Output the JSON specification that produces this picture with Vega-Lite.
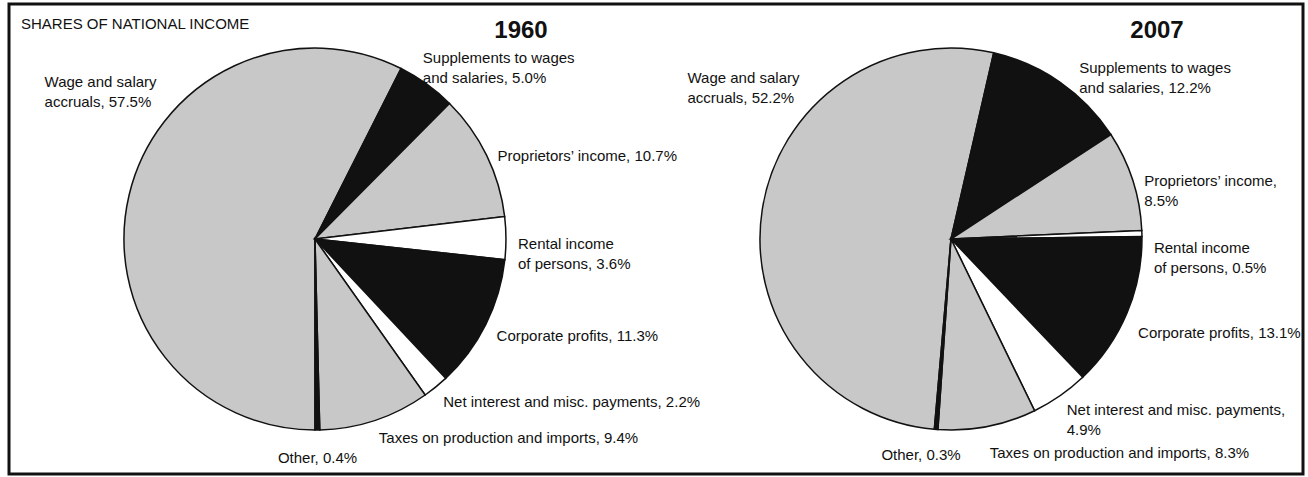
{
  "$schema": "https://vega.github.io/schema/vega-lite/v6.json",
  "width": 1294,
  "height": 470,
  "autosize": {"type": "none"},
  "padding": {"left": 9, "top": 4, "right": 5, "bottom": 3},
  "background": "white",
  "config": {
    "view": {"stroke": "#111111", "strokeWidth": 3},
    "font": "Liberation Sans",
    "text": {"font": "Liberation Sans", "fontSize": 15, "lineHeight": 20, "color": "#111111"}
  },
  "data": {
    "values": [
      {"year": 1960, "idx": 1, "category": "Wage", "share": 57.5, "label": "Wage and salary\naccruals, 57.5%"},
      {"year": 1960, "idx": 2, "category": "Supplements", "share": 5.0, "label": "Supplements to wages\nand salaries, 5.0%"},
      {"year": 1960, "idx": 3, "category": "Proprietors", "share": 10.7, "label": "Proprietors’ income, 10.7%"},
      {"year": 1960, "idx": 4, "category": "Rental", "share": 3.6, "label": "Rental income\nof persons, 3.6%"},
      {"year": 1960, "idx": 5, "category": "Corporate", "share": 11.3, "label": "Corporate profits, 11.3%"},
      {"year": 1960, "idx": 6, "category": "Net interest", "share": 2.2, "label": "Net interest and misc. payments, 2.2%"},
      {"year": 1960, "idx": 7, "category": "Taxes", "share": 9.4, "label": "Taxes on production and imports, 9.4%"},
      {"year": 1960, "idx": 8, "category": "Other", "share": 0.4, "label": "Other, 0.4%"},
      {"year": 2007, "idx": 1, "category": "Wage", "share": 52.2, "label": "Wage and salary\naccruals, 52.2%"},
      {"year": 2007, "idx": 2, "category": "Supplements", "share": 12.2, "label": "Supplements to wages\nand salaries, 12.2%"},
      {"year": 2007, "idx": 3, "category": "Proprietors", "share": 8.5, "label": "Proprietors’ income,\n8.5%"},
      {"year": 2007, "idx": 4, "category": "Rental", "share": 0.5, "label": "Rental income\nof persons, 0.5%"},
      {"year": 2007, "idx": 5, "category": "Corporate", "share": 13.1, "label": "Corporate profits, 13.1%"},
      {"year": 2007, "idx": 6, "category": "Net interest", "share": 4.9, "label": "Net interest and misc. payments,\n4.9%"},
      {"year": 2007, "idx": 7, "category": "Taxes", "share": 8.3, "label": "Taxes on production and imports, 8.3%"},
      {"year": 2007, "idx": 8, "category": "Other", "share": 0.3, "label": "Other, 0.3%"}
    ]
  },
  "encoding": {
    "x": {"field": "year", "type": "ordinal", "scale": {"type": "point", "domain": [1960, 2007], "padding": 0.5173, "align": 0.465}, "axis": null}
  },
  "layer": [
    {
      "transform": [{"filter": "datum.year == 1960"}],
      "encoding": {
        "theta": {"field": "share", "type": "quantitative", "stack": true, "scale": {"range": [3.14159, 9.42478]}},
        "order": {"field": "idx", "type": "quantitative"},
        "detail": {"field": "category", "type": "nominal"}
      },
      "layer": [
        {
          "mark": {"type": "arc", "outerRadius": 191, "stroke": "#111111", "strokeWidth": 1.5},
          "encoding": {
            "color": {"field": "category", "type": "nominal", "legend": null,
              "scale": {"domain": ["Wage", "Supplements", "Proprietors", "Rental", "Corporate", "Net interest", "Taxes", "Other"],
                        "range": ["#c8c8c8", "#111111", "#c8c8c8", "#ffffff", "#111111", "#ffffff", "#c8c8c8", "#111111"]}}
          }
        },
        {
          "mark": {"type": "text", "radius": 203, "align": "left", "baseline": "middle", "dy": 6, "lineBreak": "\n"},
          "encoding": {"text": {"condition": {"test": "indexof(['Proprietors','Rental','Corporate','Net interest','Taxes'], datum.category) >= 0", "field": "label", "type": "nominal"}, "value": ""}}
        },
        {
          "mark": {"type": "text", "radius": 205, "align": "left", "baseline": "middle", "dx": -12, "dy": -15, "lineBreak": "\n"},
          "encoding": {"text": {"condition": {"test": "datum.category == 'Supplements'", "field": "label", "type": "nominal"}, "value": ""}}
        },
        {
          "mark": {"type": "text", "radius": 205, "align": "left", "baseline": "middle", "dx": -71, "dy": -110, "lineBreak": "\n"},
          "encoding": {"text": {"condition": {"test": "datum.category == 'Wage'", "field": "label", "type": "nominal"}, "value": ""}}
        },
        {
          "mark": {"type": "text", "radius": 205, "align": "center", "baseline": "middle", "dy": 14, "lineBreak": "\n"},
          "encoding": {"text": {"condition": {"test": "datum.category == 'Other'", "field": "label", "type": "nominal"}, "value": ""}}
        }
      ]
    },
    {
      "transform": [{"filter": "datum.year == 2007"}],
      "encoding": {
        "theta": {"field": "share", "type": "quantitative", "stack": true, "scale": {"range": [3.22886, 9.51204]}},
        "order": {"field": "idx", "type": "quantitative"},
        "detail": {"field": "category", "type": "nominal"}
      },
      "layer": [
        {
          "mark": {"type": "arc", "outerRadius": 191, "stroke": "#111111", "strokeWidth": 1.5},
          "encoding": {
            "color": {"field": "category", "type": "nominal", "legend": null,
              "scale": {"domain": ["Wage", "Supplements", "Proprietors", "Rental", "Corporate", "Net interest", "Taxes", "Other"],
                        "range": ["#c8c8c8", "#111111", "#c8c8c8", "#ffffff", "#111111", "#ffffff", "#c8c8c8", "#111111"]}}
          }
        },
        {
          "mark": {"type": "text", "radius": 203, "align": "left", "baseline": "middle", "dy": 15, "lineBreak": "\n"},
          "encoding": {"text": {"condition": {"test": "indexof(['Rental','Corporate','Taxes'], datum.category) >= 0", "field": "label", "type": "nominal"}, "value": ""}}
        },
        {
          "mark": {"type": "text", "radius": 203, "align": "left", "baseline": "middle", "dy": 4, "lineBreak": "\n"},
          "encoding": {"text": {"condition": {"test": "indexof(['Proprietors','Net interest'], datum.category) >= 0", "field": "label", "type": "nominal"}, "value": ""}}
        },
        {
          "mark": {"type": "text", "radius": 205, "align": "left", "baseline": "middle", "dx": 11, "dy": -3, "lineBreak": "\n"},
          "encoding": {"text": {"condition": {"test": "datum.category == 'Supplements'", "field": "label", "type": "nominal"}, "value": ""}}
        },
        {
          "mark": {"type": "text", "radius": 205, "align": "left", "baseline": "middle", "dx": -61, "dy": -129, "lineBreak": "\n"},
          "encoding": {"text": {"condition": {"test": "datum.category == 'Wage'", "field": "label", "type": "nominal"}, "value": ""}}
        },
        {
          "mark": {"type": "text", "radius": 205, "align": "center", "baseline": "middle", "dx": -14, "dy": 12, "lineBreak": "\n"},
          "encoding": {"text": {"condition": {"test": "datum.category == 'Other'", "field": "label", "type": "nominal"}, "value": ""}}
        }
      ]
    },
    {
      "transform": [{"filter": "datum.category == 'Wage'"}],
      "mark": {"type": "text", "align": "center", "baseline": "alphabetic", "dx": 206, "dy": -201, "fontSize": 24, "fontWeight": "bold", "font": "Liberation Sans"},
      "encoding": {"text": {"field": "year", "type": "quantitative", "format": "d"}}
    },
    {
      "transform": [{"filter": "datum.category == 'Wage' && datum.year == 1960"}],
      "mark": {"type": "text", "align": "left", "baseline": "alphabetic", "dx": -294, "dy": -210, "fontSize": 15, "font": "Liberation Sans"},
      "encoding": {"text": {"value": "SHARES OF NATIONAL INCOME"}}
    }
  ],
  "resolve": {"scale": {"theta": "independent"}}
}
